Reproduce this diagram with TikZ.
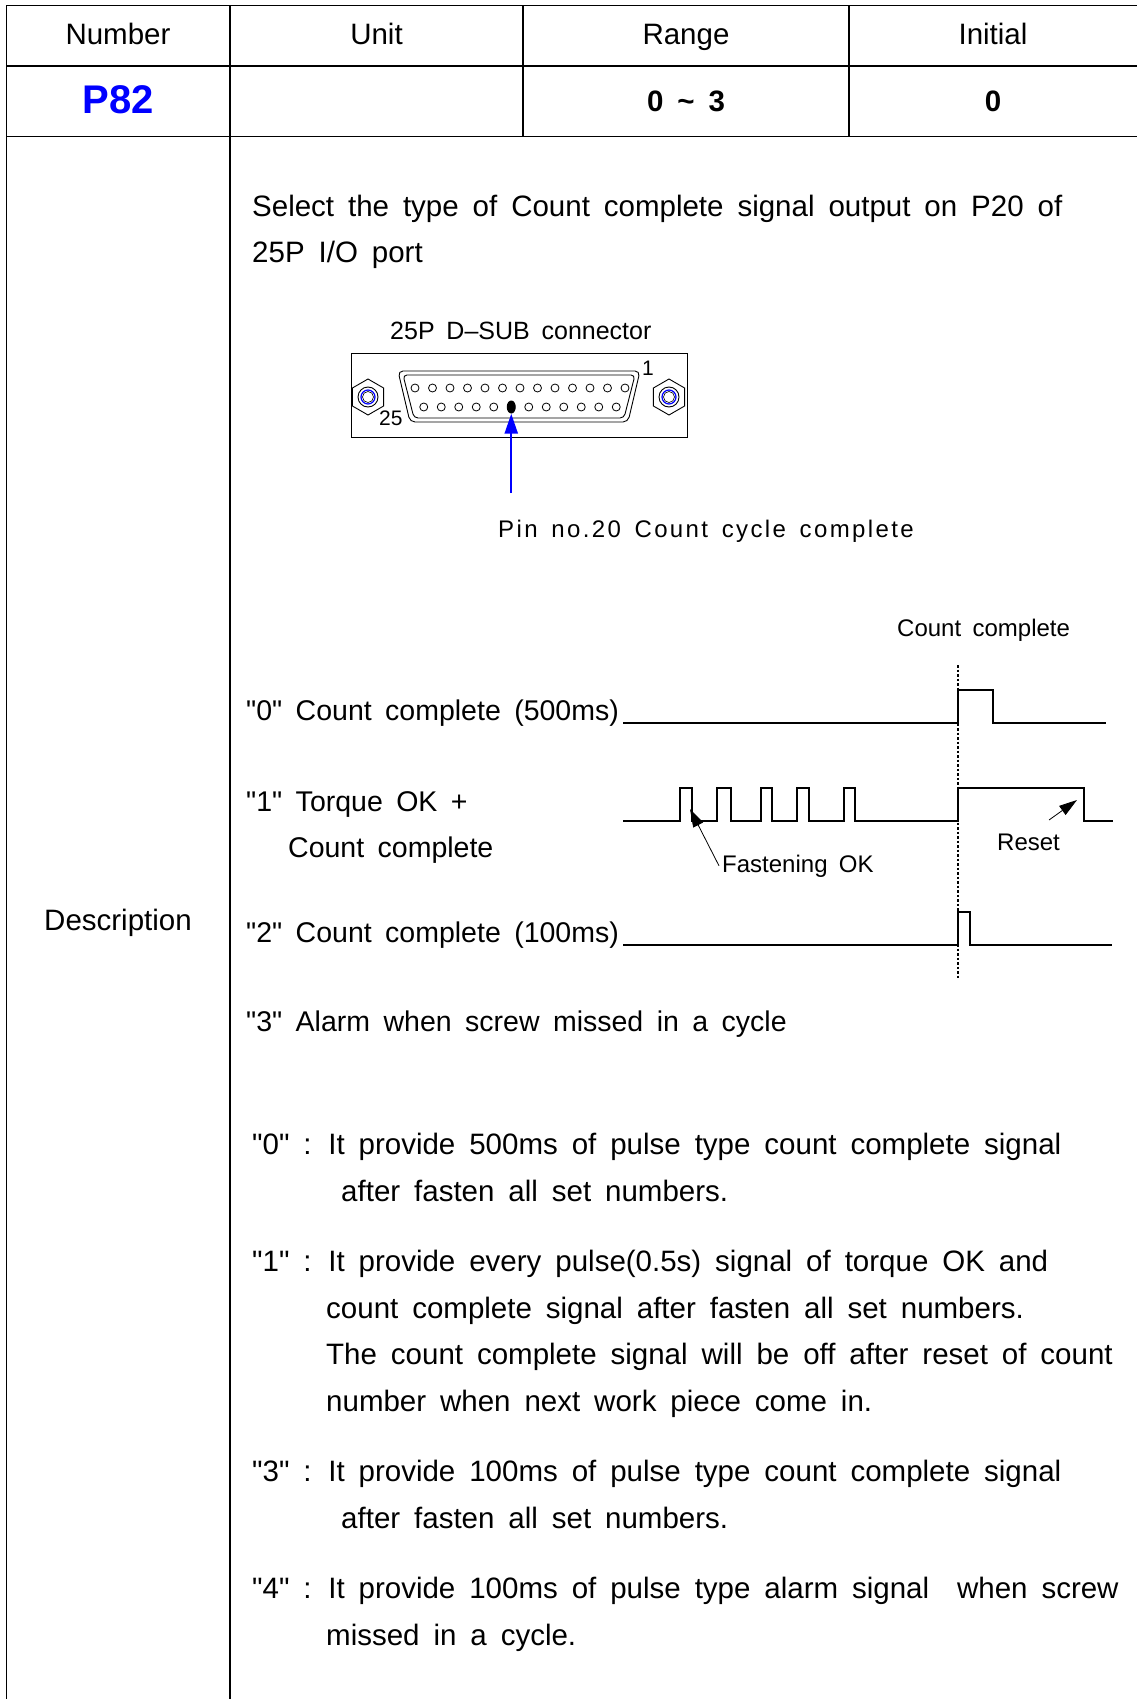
\documentclass[tikz,border=0pt]{standalone}
\usepackage{fontspec}
\setmainfont{Liberation Sans}[WordSpace=1.7]
\newfontfamily\pinfont{Liberation Sans}[WordSpace=1.5,LetterSpace=10]
\newfontfamily\plainfont{Liberation Sans}
\usetikzlibrary{arrows.meta,positioning,shapes.geometric}
\definecolor{numberColor}{RGB}{0,0,255}
\definecolor{pointerColor}{RGB}{0,0,255}
\newcommand{\qmark}{{\plainfont"}}
\tikzset{cell/.style={inner sep=0pt, font=\fontsize{29.5}{35}\selectfont}}
\tikzset{bodytext/.style={cell, anchor=base west}}
\tikzset{sigtext/.style={bodytext, font=\fontsize{28.5}{34}\selectfont}}
\tikzset{smalltext/.style={bodytext, font=\fontsize{24}{28}\selectfont}}
\tikzset{tableline/.style={line width=1.4pt}}
\tikzset{signal/.style={line width=1.3pt}}
\tikzset{countline/.style={line width=2pt, dash pattern=on 2.5pt off 2pt}}
\tikzset{pinhole/.style={circle, draw, line width=0.8pt, minimum size=8pt, inner sep=0pt}}
\tikzset{pinsel/.style={ellipse, fill, minimum width=9pt, minimum height=13pt, inner sep=0pt}}
\tikzset{screw/.style={regular polygon, regular polygon sides=6, shape border rotate=30, draw, line width=0.9pt, minimum size=36pt, inner sep=0pt}}
\tikzset{pointer/.style={draw=pointerColor, line width=2.4pt, -{Triangle[length=20pt,width=13pt]}}}
\tikzset{callout/.style={line width=0.8pt, -{Triangle[length=18pt,width=11pt]}}}

\begin{document}
\begin{tikzpicture}[x=1pt,y=-1pt]
	\useasboundingbox (0,0) rectangle (1137,1699);
	
	% Table
	\draw[tableline] (6.5,1699) -- (6.5,5.5) -- (1137,5.5);
	\draw[tableline] (6.5,66) -- (1137,66);
	\draw[tableline] (6.5,136.5) -- (1137,136.5);
	\draw[tableline] (230,5.5) -- (230,1699);
	\draw[tableline] (523,5.5) -- (523,136.5);
	\draw[tableline] (849,5.5) -- (849,136.5);
	
		\node (number) [cell, anchor=base] at (118,45) {Number};
		\node (unit) [cell, anchor=base] at (376.5,45) {Unit};
		\node (range) [cell, anchor=base] at (686,45) {Range};
		\node (initial) [cell, anchor=base] at (993,45) {Initial};
		\node (param) [cell, anchor=base, text=numberColor, font=\fontsize{40}{48}\selectfont\bfseries] at (118,114) {P82};
		\node (rangeval) [cell, anchor=base, font=\fontsize{29.5}{35}\selectfont\bfseries] at (686,112) {0 \textasciitilde{} 3};
		\node (initval) [cell, anchor=base, font=\fontsize{29.5}{35}\selectfont\bfseries] at (993,112) {0};
		\node (description) [cell, anchor=base] at (118,930) {Description};
		
		\node (select1) [bodytext] at (252,216) {Select the type of Count complete signal output on P20 of};
		\node (select2) [bodytext] at (252,262) {25P I/O port};
		
	% Connector
		\node (dsubtitle) [bodytext, font=\fontsize{25}{30}\selectfont] at (390,339) {25P D--SUB connector};
		\node (dsubplate) [draw, line width=0.9pt, minimum width=336pt, minimum height=84pt, inner sep=0pt] at (519,395) {};
		\draw[line width=0.9pt, rounded corners=5pt] (398,371) -- (640,371) -- (628,422) -- (410,422) -- cycle;
		\draw[line width=0.9pt, rounded corners=4pt] (403,375) -- (635,375) -- (624,418) -- (414,418) -- cycle;
		
		\foreach \i in {1,...,13}
			\node (pin\i) [pinhole] at ({625-(\i-1)*17.5},388) {};
		\foreach \i in {14,...,19,21,22,23,24,25}
			\node (pin\i) [pinhole] at ({616.25-(\i-14)*17.5},407) {};
		\node (pin20) [pinsel] at (511.25,407) {};
		
		\node (pinone) [bodytext, font=\fontsize{21}{25}\selectfont] at (642,375) {1};
		\node (pinlast) [bodytext, font=\fontsize{21}{25}\selectfont] at (379,425) {25};
		
		\foreach \s/\x in {screwL/368,screwR/669} {
			\node (\s) [screw] at (\x,397) {};
			\draw[line width=0.9pt] (\s.center) circle (10pt);
			\draw[pointerColor, line width=1.2pt] (\s.center) circle (7pt);
			\draw[line width=0.6pt] (\s.center) circle (5.5pt);
		}
		
		\coordinate (pointerTail) at (511.25,493);
		\draw[pointer] (pointerTail) -- (pin20.south);
		\node (pinnote) [bodytext, font=\pinfont\fontsize{24}{28}\selectfont] at (498,537) {Pin no.20 Count cycle complete};
		
	% Signals
		\node (ccmark) [smalltext] at (897,636) {Count complete};
		\node (mode0) [sigtext] at (246,720) {\qmark0\qmark{} Count complete (500ms)};
		\node (mode1a) [sigtext] at (246,811) {\qmark1\qmark{} Torque OK +};
		\node (mode1b) [sigtext] at (288,857) {Count complete};
		\node (mode2) [sigtext] at (246,942) {\qmark2\qmark{} Count complete (100ms)};
		\node (mode3) [sigtext] at (246,1031) {\qmark3\qmark{} Alarm when screw missed in a cycle};
		\node (fastening) [smalltext] at (722,872) {Fastening OK};
		\node (reset) [smalltext] at (997,850) {Reset};
		
		\draw[countline] (958,665) -- (958,978);
		\draw[signal] (623,723) -- (958,723) -- (958,690) -- (993,690) -- (993,723) -- (1106,723);
		\draw[signal] (623,821) \foreach \a/\b in {680/692,717/731,761/772,797/809,844/855} { -- (\a,821) -- (\a,788) -- (\b,788) -- (\b,821) } -- (958,821) -- (958,788) -- (1084,788) -- (1084,821) -- (1113,821);
		\draw[signal] (623,945) -- (958,945) -- (958,912) -- (970,912) -- (970,945) -- (1112,945);
		
		\coordinate (fastTip) at (690,809);
		\coordinate (resetTail) at (1049,820);
		\coordinate (resetTip) at (1077,800);
		\draw[callout] ([xshift=-3pt]fastening.west) -- (fastTip);
		\draw[callout] (resetTail) -- (resetTip);
		
	% Description
		\node (d0a) [bodytext] at (252,1154) {\qmark0\qmark{} : It provide 500ms of pulse type count complete signal};
		\node (d0b) [bodytext] at (341,1201) {after fasten all set numbers.};
		\node (d1a) [bodytext] at (252,1271) {\qmark1\qmark{} : It provide every pulse(0.5s) signal of torque OK and};
		\node (d1b) [bodytext] at (326,1318) {count complete signal after fasten all set numbers.};
		\node (d1c) [bodytext] at (326,1364) {The count complete signal will be off after reset of count};
		\node (d1d) [bodytext] at (326,1411) {number when next work piece come in.};
		\node (d3a) [bodytext] at (252,1481) {\qmark3\qmark{} : It provide 100ms of pulse type count complete signal};
		\node (d3b) [bodytext] at (341,1528) {after fasten all set numbers.};
		\node (d4a) [bodytext] at (252,1598) {\qmark4\qmark{} : It provide 100ms of pulse type alarm signal \ when screw};
		\node (d4b) [bodytext] at (326,1645) {missed in a cycle.};

\end{tikzpicture}
\end{document}
